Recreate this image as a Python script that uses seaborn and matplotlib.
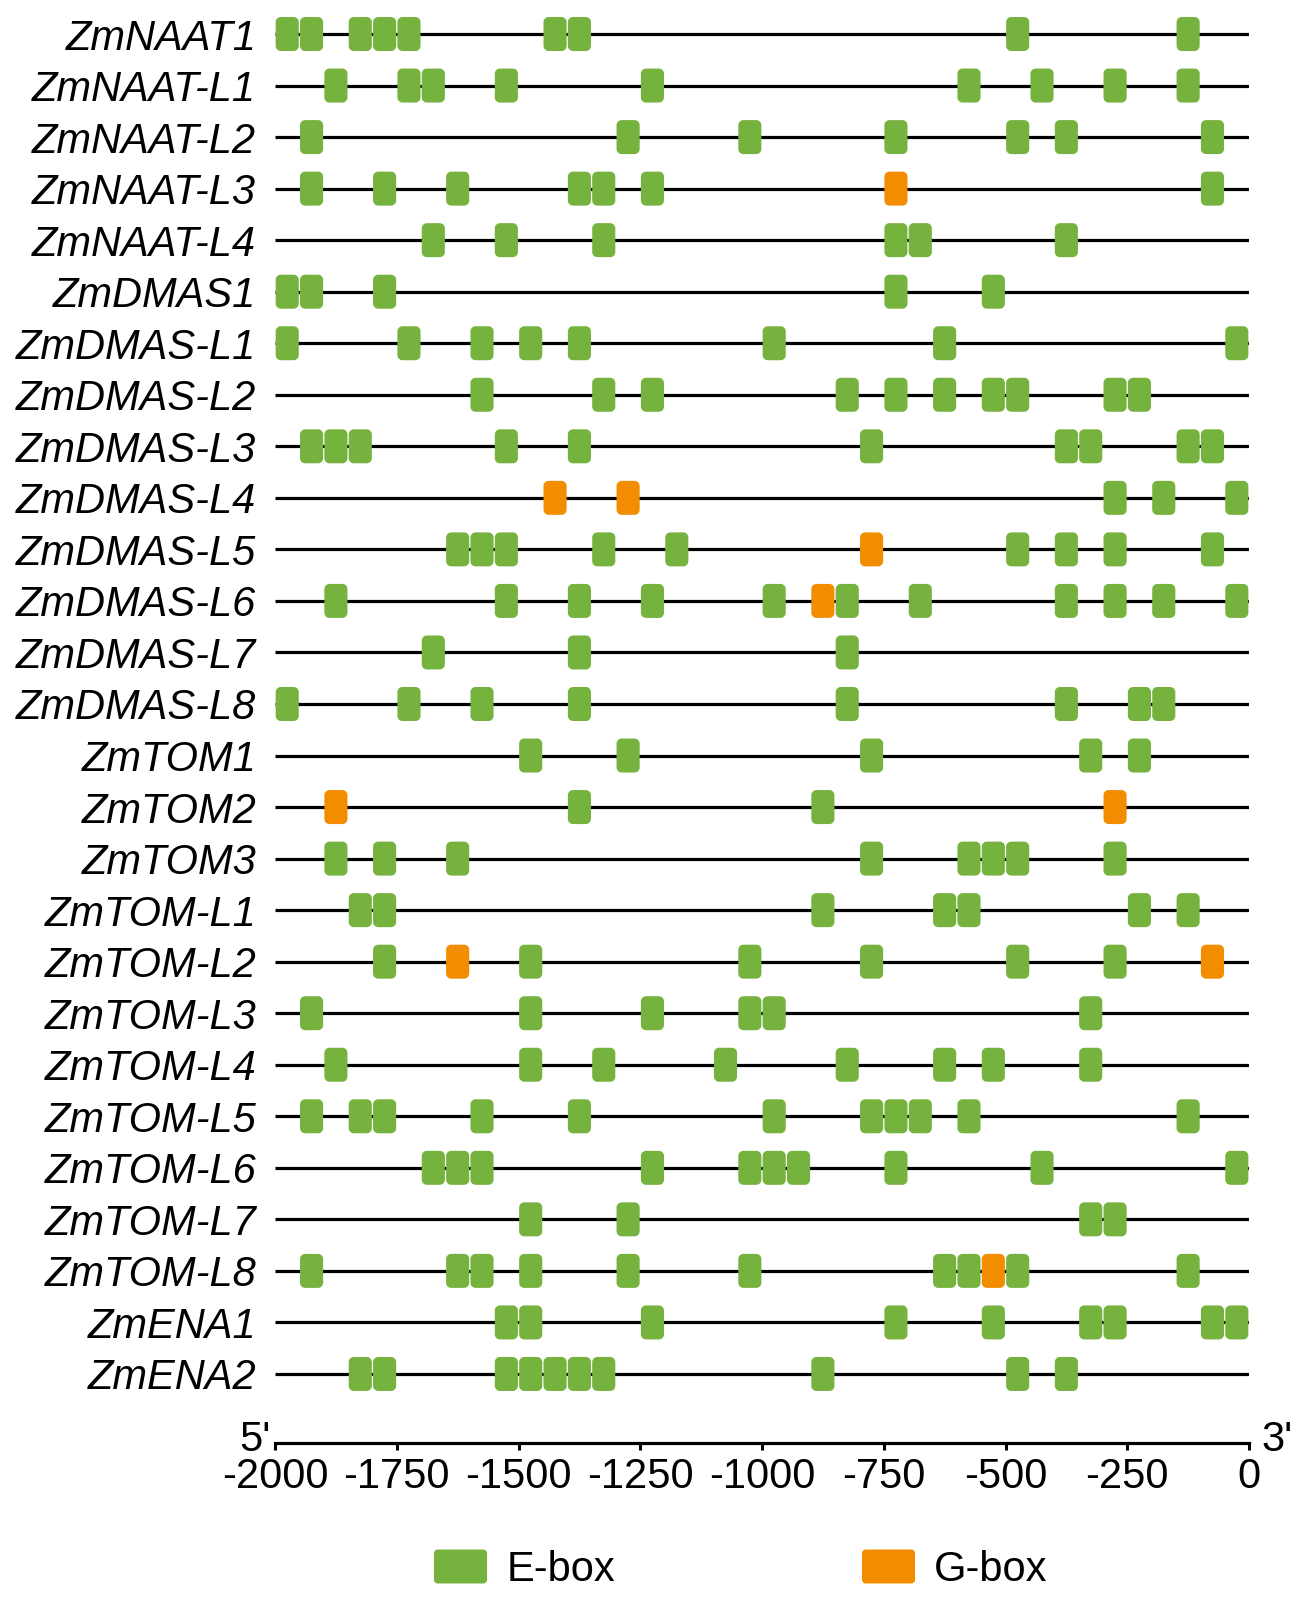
import matplotlib
matplotlib.use("Agg")
import numpy as np
import pandas as pd
import matplotlib.pyplot as plt
from matplotlib.path import Path
from matplotlib.lines import Line2D
import seaborn as sns

# ─────────────────────────────────────────────
# DATA  (site centres, bp upstream of start)
# ─────────────────────────────────────────────
genes = ["ZmNAAT1", "ZmNAAT-L1", "ZmNAAT-L2", "ZmNAAT-L3", "ZmNAAT-L4",
         "ZmDMAS1", "ZmDMAS-L1", "ZmDMAS-L2", "ZmDMAS-L3", "ZmDMAS-L4",
         "ZmDMAS-L5", "ZmDMAS-L6", "ZmDMAS-L7", "ZmDMAS-L8",
         "ZmTOM1", "ZmTOM2", "ZmTOM3", "ZmTOM-L1", "ZmTOM-L2", "ZmTOM-L3",
         "ZmTOM-L4", "ZmTOM-L5", "ZmTOM-L6", "ZmTOM-L7", "ZmTOM-L8",
         "ZmENA1", "ZmENA2"]

ebox_sites = [
    [-1975, -1925, -1825, -1775, -1725, -1425, -1375, -475, -125],
    [-1875, -1725, -1675, -1525, -1225, -575, -425, -275, -125],
    [-1925, -1275, -1025, -725, -475, -375, -75],
    [-1925, -1775, -1625, -1375, -1325, -1225, -75],
    [-1675, -1525, -1325, -725, -675, -375],
    [-1975, -1925, -1775, -725, -525],
    [-1975, -1725, -1575, -1475, -1375, -975, -625, -25],
    [-1575, -1325, -1225, -825, -725, -625, -525, -475, -275, -225],
    [-1925, -1875, -1825, -1525, -1375, -775, -375, -325, -125, -75],
    [-275, -175, -25],
    [-1625, -1575, -1525, -1325, -1175, -475, -375, -275, -75],
    [-1875, -1525, -1375, -1225, -975, -825, -675, -375, -275, -175, -25],
    [-1675, -1375, -825],
    [-1975, -1725, -1575, -1375, -825, -375, -225, -175],
    [-1475, -1275, -775, -325, -225],
    [-1375, -875],
    [-1875, -1775, -1625, -775, -575, -525, -475, -275],
    [-1825, -1775, -875, -625, -575, -225, -125],
    [-1775, -1475, -1025, -775, -475, -275],
    [-1925, -1475, -1225, -1025, -975, -325],
    [-1875, -1475, -1325, -1075, -825, -625, -525, -325],
    [-1925, -1825, -1775, -1575, -1375, -975, -775, -725, -675, -575, -125],
    [-1675, -1625, -1575, -1225, -1025, -975, -925, -725, -425, -25],
    [-1475, -1275, -325, -275],
    [-1925, -1625, -1575, -1475, -1275, -1025, -625, -575, -475, -125],
    [-1525, -1475, -1225, -725, -525, -325, -275, -75, -25],
    [-1825, -1775, -1525, -1475, -1425, -1375, -1325, -875, -475, -375],
]

gbox_sites = {
    "ZmNAAT-L3": [-725],
    "ZmDMAS-L4": [-1425, -1275],
    "ZmDMAS-L5": [-775],
    "ZmDMAS-L6": [-875],
    "ZmTOM2": [-1875, -275],
    "ZmTOM-L2": [-1625, -75],
    "ZmTOM-L8": [-525],
}

x_ticks = [-2000, -1750, -1500, -1250, -1000, -750, -500, -250, 0]
promoter_start, promoter_end = -2000, 0

PALETTE = {"E-box": "#76B23E", "G-box": "#F28D00"}
FS = 30


def rounded_box(half_w, half_h, r, n=8):
    """Closed rounded-rectangle path, used as a scatter marker."""
    verts = []
    corners = [(half_w - r, half_h - r, 0), (-half_w + r, half_h - r, 90),
               (-half_w + r, -half_h + r, 180), (half_w - r, -half_h + r, 270)]
    for cx, cy, a0 in corners:
        for a in np.linspace(np.radians(a0), np.radians(a0 + 90), n):
            verts.append((cx + r * np.cos(a), cy + r * np.sin(a)))
    verts.append(verts[0])
    return Path(verts, closed=True)


# long-form table for seaborn
rows = []
for i, g in enumerate(genes):
    for s in ebox_sites[i]:
        rows.append({"gene": g, "row": i, "pos": s, "element": "E-box"})
    for s in gbox_sites.get(g, []):
        rows.append({"gene": g, "row": i, "pos": s, "element": "G-box"})
df = pd.DataFrame(rows)

sns.set_theme(style="white")
plt.rcParams["font.family"] = ["Liberation Sans", "DejaVu Sans"]
for k in ["text.color", "xtick.color", "ytick.color", "axes.labelcolor"]:
    plt.rcParams[k] = "black"

fig = plt.figure(figsize=(13.11, 16.07), dpi=100)
ax = fig.add_axes([0.2098, 0.1021, 0.7429, 0.8979])

# promoter lines
ax.hlines(range(len(genes)), promoter_start, promoter_end,
          color="black", lw=2.3, zorder=1)

box_marker = rounded_box(0.34, 0.5, 0.15)
sns.scatterplot(data=df, x="pos", y="row", hue="element", palette=PALETTE,
                marker=box_marker, s=599, linewidth=0, legend=False,
                ax=ax, zorder=2, clip_on=False)

ax.set_xlim(promoter_start, promoter_end)
ax.set_ylim(27.338, -0.66)

ax.set_yticks(range(len(genes)))
ax.set_yticklabels(genes, fontstyle="italic", fontsize=FS)
ax.set_xticks(x_ticks)
ax.set_xticklabels([str(t) for t in x_ticks], fontsize=FS)
ax.tick_params(axis="y", length=0, pad=13.5)
ax.tick_params(axis="x", direction="out", length=5, width=2.2,
               color="black", pad=5, bottom=True)
ax.set_xlabel("")
ax.set_ylabel("")

for side in ["top", "right", "left"]:
    ax.spines[side].set_visible(False)
ax.spines["bottom"].set_color("black")
ax.spines["bottom"].set_linewidth(2.3)

ax.annotate("5'", xy=(promoter_start, 27.338), xytext=(-3, -6),
            textcoords="offset points", ha="right", va="baseline",
            fontsize=FS, annotation_clip=False)
ax.annotate("3'", xy=(promoter_end, 27.338), xytext=(9, -6),
            textcoords="offset points", ha="left", va="baseline",
            fontsize=FS, annotation_clip=False)

# legend
legend_marker = rounded_box(0.5, 0.32, 0.07)
handles = [Line2D([], [], linestyle="none", marker=legend_marker,
                  markersize=38.2, markerfacecolor=PALETTE[k],
                  markeredgewidth=0) for k in PALETTE]
fig.legend(handles, list(PALETTE), loc="center",
           bbox_to_anchor=(0.565, 0.023), ncol=2, frameon=False,
           fontsize=FS, handlelength=1.27, handletextpad=0.48,
           columnspacing=5.9)

fig.savefig("out.png", dpi=100)
